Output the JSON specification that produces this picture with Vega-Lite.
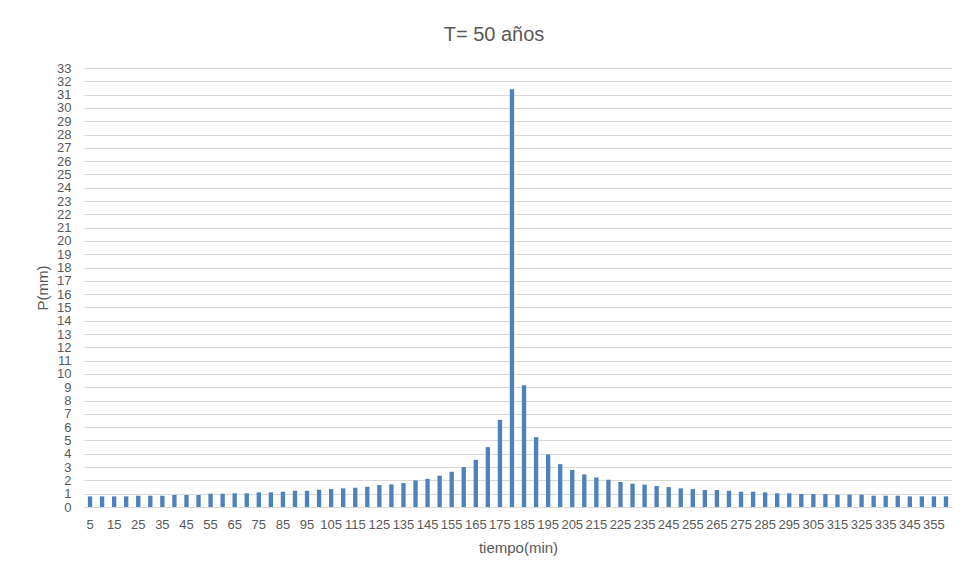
{
  "$schema": "https://vega.github.io/schema/vega-lite/v6.json",
  "width": 868,
  "height": 439,
  "autosize": {"type": "none"},
  "padding": {"left": 84, "top": 68, "right": 12, "bottom": 72},
  "background": "white",
  "title": {
    "text": "T= 50 años",
    "font": "Liberation Sans",
    "fontSize": 20,
    "fontWeight": "normal",
    "color": "#595959",
    "dx": -24,
    "offset": 17
  },
  "data": {
    "values": [
      {"t": 5, "p": 0.8}, {"t": 10, "p": 0.8}, {"t": 15, "p": 0.8}, {"t": 20, "p": 0.8},
      {"t": 25, "p": 0.85}, {"t": 30, "p": 0.85}, {"t": 35, "p": 0.85}, {"t": 40, "p": 0.9},
      {"t": 45, "p": 0.9}, {"t": 50, "p": 0.9}, {"t": 55, "p": 1.0}, {"t": 60, "p": 1.0},
      {"t": 65, "p": 1.03}, {"t": 70, "p": 1.03}, {"t": 75, "p": 1.1}, {"t": 80, "p": 1.1},
      {"t": 85, "p": 1.15}, {"t": 90, "p": 1.22}, {"t": 95, "p": 1.22}, {"t": 100, "p": 1.3},
      {"t": 105, "p": 1.35}, {"t": 110, "p": 1.4}, {"t": 115, "p": 1.45}, {"t": 120, "p": 1.52},
      {"t": 125, "p": 1.65}, {"t": 130, "p": 1.7}, {"t": 135, "p": 1.8}, {"t": 140, "p": 2.0},
      {"t": 145, "p": 2.12}, {"t": 150, "p": 2.35}, {"t": 155, "p": 2.65}, {"t": 160, "p": 3.0},
      {"t": 165, "p": 3.55}, {"t": 170, "p": 4.5}, {"t": 175, "p": 6.55}, {"t": 180, "p": 31.4},
      {"t": 185, "p": 9.15}, {"t": 190, "p": 5.25}, {"t": 195, "p": 3.95}, {"t": 200, "p": 3.22},
      {"t": 205, "p": 2.78}, {"t": 210, "p": 2.45}, {"t": 215, "p": 2.22}, {"t": 220, "p": 2.05},
      {"t": 225, "p": 1.88}, {"t": 230, "p": 1.75}, {"t": 235, "p": 1.68}, {"t": 240, "p": 1.58},
      {"t": 245, "p": 1.5}, {"t": 250, "p": 1.4}, {"t": 255, "p": 1.35}, {"t": 260, "p": 1.28},
      {"t": 265, "p": 1.28}, {"t": 270, "p": 1.22}, {"t": 275, "p": 1.15}, {"t": 280, "p": 1.15},
      {"t": 285, "p": 1.1}, {"t": 290, "p": 1.03}, {"t": 295, "p": 1.03}, {"t": 300, "p": 0.98},
      {"t": 305, "p": 0.98}, {"t": 310, "p": 0.98}, {"t": 315, "p": 0.93}, {"t": 320, "p": 0.93},
      {"t": 325, "p": 0.93}, {"t": 330, "p": 0.85}, {"t": 335, "p": 0.85}, {"t": 340, "p": 0.85},
      {"t": 345, "p": 0.8}, {"t": 350, "p": 0.8}, {"t": 355, "p": 0.8}, {"t": 360, "p": 0.8}
    ]
  },
  "mark": {"type": "bar", "color": "#4F81BD"},
  "encoding": {
    "x": {
      "field": "t",
      "type": "ordinal",
      "sort": "ascending",
      "scale": {"paddingInner": 0.64, "paddingOuter": 0.32},
      "axis": {
        "title": "tiempo(min)",
        "values": [5, 15, 25, 35, 45, 55, 65, 75, 85, 95, 105, 115, 125, 135, 145, 155, 165, 175, 185, 195, 205, 215, 225, 235, 245, 255, 265, 275, 285, 295, 305, 315, 325, 335, 345, 355],
        "labelAngle": 0,
        "labelFont": "Liberation Sans",
        "labelFontSize": 13,
        "labelColor": "#595959",
        "labelPadding": 11,
        "labelOverlap": false,
        "ticks": false,
        "domain": true,
        "domainColor": "#D9D9D9",
        "titleFont": "Liberation Sans",
        "titleFontSize": 15,
        "titleFontWeight": "normal",
        "titleColor": "#595959",
        "titlePadding": 9
      }
    },
    "y": {
      "field": "p",
      "type": "quantitative",
      "scale": {"domain": [0, 33], "nice": false},
      "axis": {
        "title": "P(mm)",
        "values": [0, 1, 2, 3, 4, 5, 6, 7, 8, 9, 10, 11, 12, 13, 14, 15, 16, 17, 18, 19, 20, 21, 22, 23, 24, 25, 26, 27, 28, 29, 30, 31, 32, 33],
        "labelFont": "Liberation Sans",
        "labelFontSize": 13,
        "labelColor": "#595959",
        "labelPadding": 13,
        "labelOverlap": false,
        "ticks": false,
        "domain": false,
        "gridColor": "#D9D9D9",
        "titleFont": "Liberation Sans",
        "titleFontSize": 15,
        "titleFontWeight": "normal",
        "titleColor": "#595959",
        "titlePadding": 6
      }
    }
  },
  "config": {"view": {"stroke": null}}
}
